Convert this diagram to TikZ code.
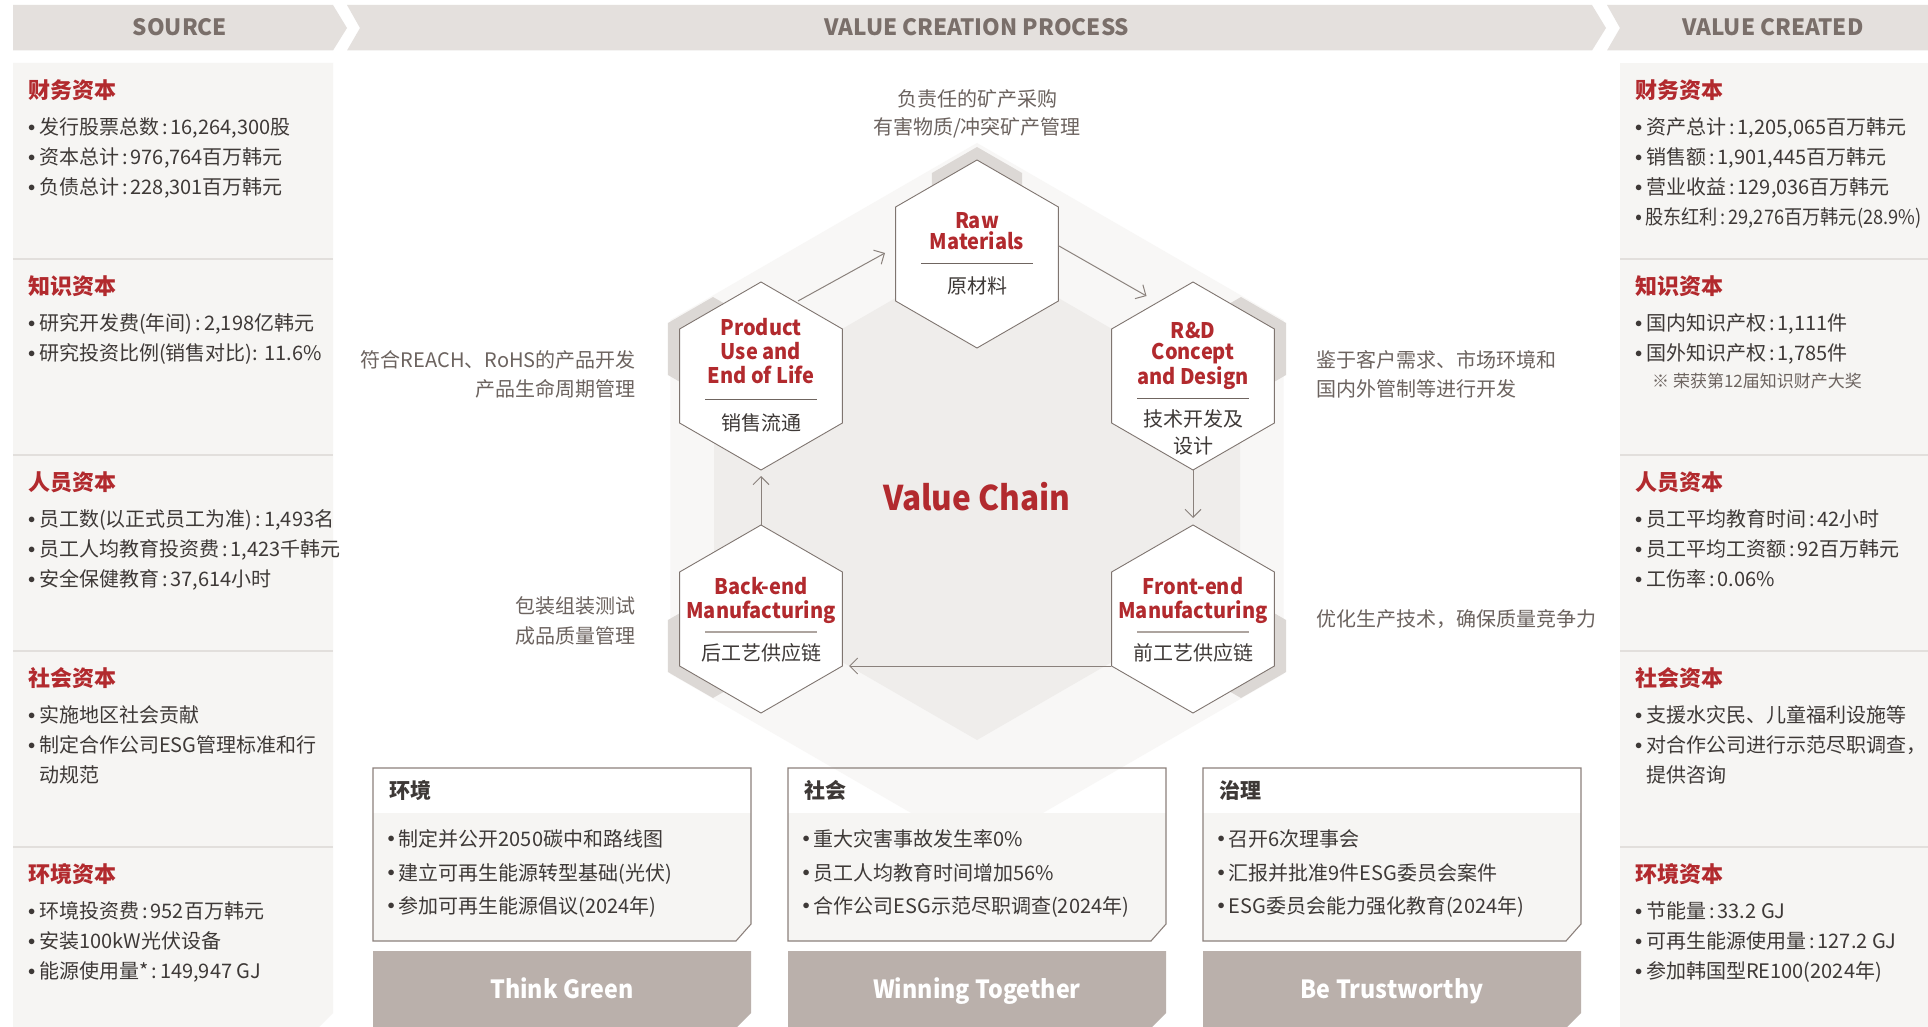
\documentclass[tikz,border=0pt]{standalone}
\usepackage{fontspec}
\setmainfont{Noto Sans CJK SC}
\newfontfamily\condb{Noto Sans CJK SC}[FakeStretch=0.93]
\usetikzlibrary{shapes.geometric,arrows.meta,calc}
\definecolor{hdr}{HTML}{E4E0DD}
\definecolor{hdrtxt}{HTML}{7A6F6A}
\definecolor{panel}{HTML}{F6F5F3}
\definecolor{sepc}{HTML}{E2DFDC}
\definecolor{red1}{HTML}{B22A2E}
\definecolor{txt}{HTML}{3E3937}
\definecolor{side}{HTML}{6C635F}
\definecolor{hexb}{HTML}{7F7570}
\definecolor{band}{HTML}{BAB0AB}
\definecolor{boxb}{HTML}{8C817C}
\definecolor{shad}{HTML}{DCD8D5}
\definecolor{halo}{HTML}{F8F7F6}
\definecolor{inner}{HTML}{EFEDEB}
\definecolor{arrc}{HTML}{8A817C}
\definecolor{hsepdk}{HTML}{6F6560}
\definecolor{hseplt}{HTML}{ADA49F}
\newcommand\myfs[1]{\fontsize{#1}{#1}\selectfont}
\newcommand\bul{\makebox[9.5pt][l]{\kern-1.5pt\raisebox{3.5pt}{\fontsize{14}{14}\selectfont$\bullet$}}}
\newcommand\cln{\kern0.15em:\kern0.15em}
\newcommand\hexat[4]{\fill[#4] (#1,#2-#3) -- (#1+0.866*#3,#2-0.5*#3) -- (#1+0.866*#3,#2+0.5*#3) -- (#1,#2+#3) -- (#1-0.866*#3,#2+0.5*#3) -- (#1-0.866*#3,#2-0.5*#3) -- cycle;}
\tikzset{
  hdrt/.style={inner sep=0pt, font=\myfs{22.5}\bfseries, text=hdrtxt, text height=16pt, text depth=0pt},
  ptitle/.style={inner sep=0pt, anchor=west, font=\myfs{22}\bfseries, text=red1, text height=19.4pt, text depth=3.1pt},
  ptxt/.style={inner sep=0pt, anchor=west, font=\myfs{20}, text=txt, text height=17.6pt, text depth=2.8pt},
  notet/.style={inner sep=0pt, anchor=west, font=\myfs{17}, text=side, text height=15pt, text depth=2.4pt},
  sidet/.style={inner sep=0pt, font=\myfs{20}, text=side, text height=17.6pt, text depth=2.8pt},
  hexn/.style={regular polygon, regular polygon sides=6, shape border rotate=30, minimum size=188pt, inner sep=0pt, outer sep=0pt, draw=hexb, line width=0.9pt, fill=white},
  etit/.style={inner sep=0pt, font=\condb\myfs{21.5}\bfseries, text=red1, text height=19pt, text depth=3pt},
  ctit/.style={inner sep=0pt, font=\myfs{20}, text=txt, text height=17.6pt, text depth=2.8pt},
  vct/.style={inner sep=0pt, font=\condb\myfs{34}\bfseries, text=red1, text height=24pt, text depth=0pt},
  arr/.style={draw=arrc, line width=1pt, -{Straight Barb[length=8pt,width=16pt,line width=1pt]}},
  sepl/.style={draw=sepc, line width=1.5pt},
  hsepd/.style={draw=hsepdk, line width=1pt},
  hsepl/.style={draw=hseplt, line width=1.5pt},
  bxtitle/.style={inner sep=0pt, anchor=west, font=\myfs{21}\bfseries, text=txt, text height=18.5pt, text depth=2.9pt},
  bandt/.style={inner sep=0pt, font=\condb\myfs{25}\bfseries, text=white, text height=17.5pt, text depth=0pt},
}
\newcommand\esgbox[7]{%
  \fill[panel] (#1,813) -- (#1+378,813) -- (#1+378,924) -- (#1+363,941) -- (#1,941) -- cycle;
  \draw[boxb, line width=1.1pt] (#1,768) -- (#1+378,768) -- (#1+378,924) -- (#1+363,941) -- (#1,941) -- cycle;
  \node[bxtitle] (#2t) at (#1+16.5,791) {#3};
  \node[ptxt] (#2a) at (#1+16,839) {\bul #4};
  \node[ptxt] (#2b) at (#1+16,873) {\bul #5};
  \node[ptxt] (#2c) at (#1+16,906) {\bul #6};
  \fill[band] (#1,951) -- (#1+378,951) -- (#1+378,1013) -- (#1+364,1027) -- (#1,1027) -- cycle;
  \node[bandt] (#2d) at (#1+189,990) {#7};
}
\begin{document}
\begin{tikzpicture}[x=1pt,y=-1pt]
\useasboundingbox (0,0) rectangle (1928,1027);
\fill[white] (0,0) rectangle (1928,1027);
% header bars
\fill[hdr] (13,5) -- (333,5) -- (347,28) -- (333,50.5) -- (13,50.5) -- cycle;
\fill[hdr] (347,5) -- (1592,5) -- (1606,28) -- (1592,50.5) -- (347,50.5) -- (360,28) -- cycle;
\fill[hdr] (1607,5) -- (1928,5) -- (1928,50.5) -- (1607,50.5) -- (1620,28) -- cycle;
\node[hdrt] (hs) at (180,28) {SOURCE};
\node[hdrt] (hp) at (977,28) {VALUE CREATION PROCESS};
\node[hdrt] (hc) at (1773,28) {VALUE CREATED};
% side panels
\fill[panel] (13,63) -- (333,63) -- (333,1013) -- (319,1027) -- (13,1027) -- cycle;
\fill[panel] (1620,63) rectangle (1928,1027);
\foreach \yy in {259,455,651,847} {
  \draw[sepl] (13,\yy) -- (333,\yy);
  \draw[sepl] (1620,\yy) -- (1928,\yy);
}
% left panel texts
\node[ptitle] (l1t) at (28,90.7) {财务资本};
\node[ptxt] (l1a) at (29.5,127.5) {\bul 发行股票总数\cln 16,264,300股};
\node[ptxt] (l1b) at (29.5,157.5) {\bul 资本总计\cln 976,764百万韩元};
\node[ptxt] (l1c) at (29.5,187.5) {\bul 负债总计\cln 228,301百万韩元};
\node[ptitle] (l2t) at (28,286.7) {知识资本};
\node[ptxt] (l2a) at (29.5,323.5) {\bul 研究开发费(年间)\cln 2,198亿韩元};
\node[ptxt] (l2b) at (29.5,353.5) {\bul 研究投资比例(销售对比): 11.6\%};
\node[ptitle] (l3t) at (28,482.7) {人员资本};
\node[ptxt] (l3a) at (29.5,519.5) {\bul 员工数(以正式员工为准)\cln 1,493名};
\node[ptxt] (l3b) at (29.5,549.5) {\bul 员工人均教育投资费\cln 1,423千韩元};
\node[ptxt] (l3c) at (29.5,579.5) {\bul 安全保健教育\cln 37,614小时};
\node[ptitle] (l4t) at (28,678.7) {社会资本};
\node[ptxt] (l4a) at (29.5,715.5) {\bul 实施地区社会贡献};
\node[ptxt] (l4b) at (29.5,745.5) {\bul 制定合作公司ESG管理标准和行};
\node[ptxt] (l4c) at (39,775.5) {动规范};
\node[ptitle] (l5t) at (28,874.7) {环境资本};
\node[ptxt] (l5a) at (29.5,911.5) {\bul 环境投资费\cln 952百万韩元};
\node[ptxt] (l5b) at (29.5,941.5) {\bul 安装100kW光伏设备};
\node[ptxt] (l5c) at (29.5,971.5) {\bul 能源使用量*\cln 149,947 GJ};
% right panel texts
\node[ptitle] (r1t) at (1635,90.7) {财务资本};
\node[ptxt] (r1a) at (1636.5,127.5) {\bul 资产总计\cln 1,205,065百万韩元};
\node[ptxt] (r1b) at (1636.5,157.5) {\bul 销售额\cln 1,901,445百万韩元};
\node[ptxt] (r1c) at (1636.5,187.5) {\bul 营业收益\cln 129,036百万韩元};
\node[ptxt] (r1d) at (1636.5,217.5) {\scalebox{0.91}[1]{\bul 股东红利\cln 29,276百万韩元(28.9\%)}};
\node[ptitle] (r2t) at (1635,286.7) {知识资本};
\node[ptxt] (r2a) at (1636.5,323.5) {\bul 国内知识产权\cln 1,111件};
\node[ptxt] (r2b) at (1636.5,353.5) {\bul 国外知识产权\cln 1,785件};
\node[notet] (r2c) at (1652,381) {※ 荣获第12届知识财产大奖};
\node[ptitle] (r3t) at (1635,482.7) {人员资本};
\node[ptxt] (r3a) at (1636.5,519.5) {\bul 员工平均教育时间\cln 42小时};
\node[ptxt] (r3b) at (1636.5,549.5) {\bul 员工平均工资额\cln 92百万韩元};
\node[ptxt] (r3c) at (1636.5,579.5) {\bul 工伤率\cln 0.06\%};
\node[ptitle] (r4t) at (1635,678.7) {社会资本};
\node[ptxt] (r4a) at (1636.5,715.5) {\bul 支援水灾民、儿童福利设施等};
\node[ptxt] (r4b) at (1636.5,745.5) {\bul 对合作公司进行示范尽职调查，};
\node[ptxt] (r4c) at (1646,775.5) {提供咨询};
\node[ptitle] (r5t) at (1635,874.7) {环境资本};
\node[ptxt] (r5a) at (1636.5,911.5) {\bul 节能量\cln 33.2 GJ};
\node[ptxt] (r5b) at (1636.5,941.5) {\bul 可再生能源使用量\cln 127.2 GJ};
\node[ptxt] (r5c) at (1636.5,971.5) {\bul 参加韩国型RE100(2024年)};
% background hexagons
\hexat{977}{497}{354}{halo}
\fill[inner] (977,251) -- (1240,403) -- (1240,588) -- (977,740) -- (714,588) -- (714,403) -- cycle;
\hexat{977}{199}{52}{shad}
\hexat{713}{349}{52}{shad}
\hexat{1241}{349}{52}{shad}
\hexat{713}{646}{52}{shad}
\hexat{1241}{646}{52}{shad}
% value chain hexagons
\node[hexn] (RM) at (977,254) {};
\node[hexn] (PU) at (761,376) {};
\node[hexn] (RD) at (1193,376) {};
\node[hexn] (BE) at (761,619) {};
\node[hexn] (FE) at (1193,619) {};
% connectors
\draw[arr] ($(PU)+(37,-75)$) -- ($(RM)+(-92,-1)$);
\draw[arr] ($(RM)+(82,-8)$) -- ($(RD)+(-46.5,-80)$);
\draw[arr] ($(RD)+(0,94)$) -- ($(FE)+(0,-101)$);
\draw[arr] ($(FE)+(-82,47)$) -- ($(BE)+(88,47)$);
\draw[arr] ($(BE)+(0,-94)$) -- ($(PU)+(0,100)$);
% hexagon texts
\node[etit] (RMe1) at ($(RM)+(0,-33.5)$) {Raw};
\node[etit] (RMe2) at ($(RM)+(0,-12)$) {Materials};
\draw[hsepd] ($(RM)+(-56,9.7)$) -- ($(RM)+(56,9.7)$);
\node[ctit] (RMc) at ($(RM)+(0,31.7)$) {原材料};
\node[etit] (PUe1) at ($(PU)+(0,-49)$) {Product};
\node[etit] (PUe2) at ($(PU)+(0,-25)$) {Use and};
\node[etit] (PUe3) at ($(PU)+(0,-1)$) {End of Life};
\draw[hsepd] ($(PU)+(-56,23.5)$) -- ($(PU)+(56,23.5)$);
\node[ctit] (PUc) at ($(PU)+(0,47)$) {销售流通};
\node[etit] (RDe1) at ($(RD)+(0,-46)$) {R\&D};
\node[etit] (RDe2) at ($(RD)+(0,-24.5)$) {Concept};
\node[etit] (RDe3) at ($(RD)+(0,0)$) {and Design};
\draw[hsepd] ($(RD)+(-56,22)$) -- ($(RD)+(56,22)$);
\node[ctit] (RDc1) at ($(RD)+(0,43)$) {技术开发及};
\node[ctit] (RDc2) at ($(RD)+(0,70)$) {设计};
\node[etit] (BEe1) at ($(BE)+(0,-32.5)$) {Back-end};
\node[etit] (BEe2) at ($(BE)+(0,-9)$) {Manufacturing};
\draw[hsepl] ($(BE)+(-56,13)$) -- ($(BE)+(56,13)$);
\node[ctit] (BEc) at ($(BE)+(0,34.5)$) {后工艺供应链};
\node[etit] (FEe1) at ($(FE)+(0,-32.5)$) {Front-end};
\node[etit] (FEe2) at ($(FE)+(0,-9)$) {Manufacturing};
\draw[hsepl] ($(FE)+(-56,13)$) -- ($(FE)+(56,13)$);
\node[ctit] (FEc) at ($(FE)+(0,34.5)$) {前工艺供应链};
\node[vct] (VC) at (977,498) {Value Chain};
% side descriptions
\node[sidet] (d1a) at (977,99) {负责任的矿产采购};
\node[sidet] (d1b) at (977,127.4) {有害物质/冲突矿产管理};
\node[sidet, anchor=east] (d2a) at (636,360) {符合REACH、RoHS的产品开发};
\node[sidet, anchor=east] (d2b) at (636,389) {产品生命周期管理};
\node[sidet, anchor=east] (d3a) at (636,606) {包装组装测试};
\node[sidet, anchor=east] (d3b) at (636,636) {成品质量管理};
\node[sidet, anchor=west] (d4a) at (1316,360.5) {鉴于客户需求、市场环境和};
\node[sidet, anchor=west] (d4b) at (1316,389) {国内外管制等进行开发};
\node[sidet, anchor=west] (d5a) at (1316,618.7) {优化生产技术，确保质量竞争力};
% ESG boxes
\esgbox{373}{env}{环境}{制定并公开2050碳中和路线图}{建立可再生能源转型基础(光伏)}{参加可再生能源倡议(2024年)}{Think Green}
\esgbox{788}{soc}{社会}{重大灾害事故发生率0\%}{员工人均教育时间增加56\%}{合作公司ESG示范尽职调查(2024年)}{Winning Together}
\esgbox{1203}{gov}{治理}{召开6次理事会}{汇报并批准9件ESG委员会案件}{ESG委员会能力强化教育(2024年)}{Be Trustworthy}
\end{tikzpicture}
\end{document}
